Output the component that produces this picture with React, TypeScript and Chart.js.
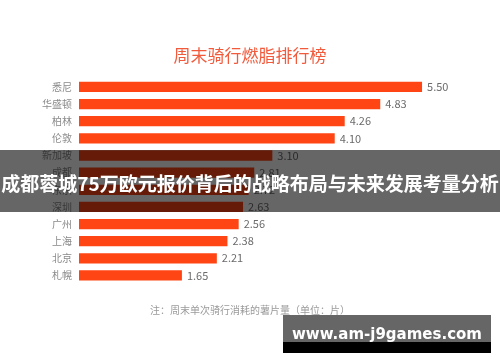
import React, { useEffect, useRef } from "react";
import { Chart, registerables } from "chart.js";

Chart.register(...registerables);

const cities = ["悉尼", "华盛顿", "柏林", "伦敦", "新加坡", "成都", "东京", "深圳", "广州", "上海", "北京", "札幌"];
const chipsPerRide = [5.5, 4.83, 4.26, 4.1, 3.1, 2.81, 2.72, 2.63, 2.56, 2.38, 2.21, 1.65];
const chartTitle = "周末骑行燃脂排行榜";
const footnote = "注：周末单次骑行消耗的薯片量（单位：片）";
const bannerText = "成都蓉城75万欧元报价背后的战略布局与未来发展考量分析";
const watermarkText = "www.am-j9games.com";

const CJK = '"Noto Sans CJK SC", "Noto Sans", sans-serif';

const valueLabels = {
  id: "valueLabels",
  afterDatasetsDraw(chart: any) {
    const ctx = chart.ctx;
    const meta = chart.getDatasetMeta(0);
    const data = chart.data.datasets[0].data as number[];
    ctx.save();
    ctx.font = `11px ${CJK}`;
    ctx.fillStyle = "#6b6b6b";
    ctx.textAlign = "left";
    ctx.textBaseline = "middle";
    meta.data.forEach((bar: any, i: number) => {
      ctx.fillText(data[i].toFixed(2), bar.x + 5, bar.y);
    });
    ctx.restore();
  },
};

function BarChart() {
  const ref = useRef<HTMLCanvasElement | null>(null);
  useEffect(() => {
    if (!ref.current) return;
    const chart = new Chart(ref.current, {
      type: "bar",
      data: {
        labels: cities,
        datasets: [
          {
            data: chipsPerRide,
            backgroundColor: "#FF4514",
            borderWidth: 0,
            barPercentage: 0.6,
            categoryPercentage: 1,
          },
        ],
      },
      options: {
        indexAxis: "y",
        animation: false,
        responsive: false,
        devicePixelRatio: 1,
        layout: { padding: 0 },
        scales: {
          x: { display: false, min: 0, max: 6.75 },
          y: {
            grid: { display: false, drawTicks: false },
            border: { display: false },
            ticks: { color: "#8a8a8a", font: { family: CJK, size: 10 }, padding: 7 },
            afterFit: (scale: any) => {
              scale.width = 79;
            },
          },
        },
        plugins: {
          legend: { display: false },
          tooltip: { enabled: false },
          title: {
            display: true,
            text: chartTitle,
            color: "#F25A3C",
            font: { family: CJK, size: 17, weight: "normal" },
            padding: { top: 45, bottom: 13 },
          },
          subtitle: {
            display: true,
            position: "bottom",
            text: footnote,
            color: "#9a9a9a",
            font: { family: CJK, size: 10, weight: "normal" },
            padding: { top: 20, bottom: 46 },
          },
        },
      },
      plugins: [valueLabels],
    });
    return () => chart.destroy();
  }, []);
  return <canvas ref={ref} width={500} height={362} style={{ display: "block" }} />;
}

export default function App() {
  return (
    <div style={{ position: "fixed", left: 0, top: 0, width: 500, height: 362, background: "#fff", overflow: "hidden" }}>
      <BarChart />
      <div
        style={{
          position: "absolute",
          left: 0,
          top: 150,
          width: 500,
          height: 62,
          background: "rgba(0,0,0,0.6)",
          display: "flex",
          alignItems: "center",
          justifyContent: "center",
          whiteSpace: "nowrap",
        }}
      >
        <span style={{ color: "#fff", fontFamily: CJK, fontWeight: 700, fontSize: 19, marginTop: 3 }}>{bannerText}</span>
      </div>
      <div style={{ position: "absolute", left: 283, top: 315, width: 208, height: 38, overflow: "hidden" }}>
        <div style={{ position: "absolute", left: 0, top: 0, width: 208, height: 27, background: "rgba(0,0,0,0.6)" }} />
        <div style={{ position: "absolute", left: 0, top: 27, width: 208, height: 11, background: "#000" }} />
        <div
          style={{
            position: "absolute",
            left: 0,
            top: 9,
            width: 208,
            textAlign: "center",
            color: "#fff",
            fontFamily: '"DejaVu Sans", sans-serif',
            fontWeight: 700,
            fontSize: 15,
            lineHeight: "20px",
          }}
        >
          {watermarkText}
        </div>
      </div>
    </div>
  );
}
